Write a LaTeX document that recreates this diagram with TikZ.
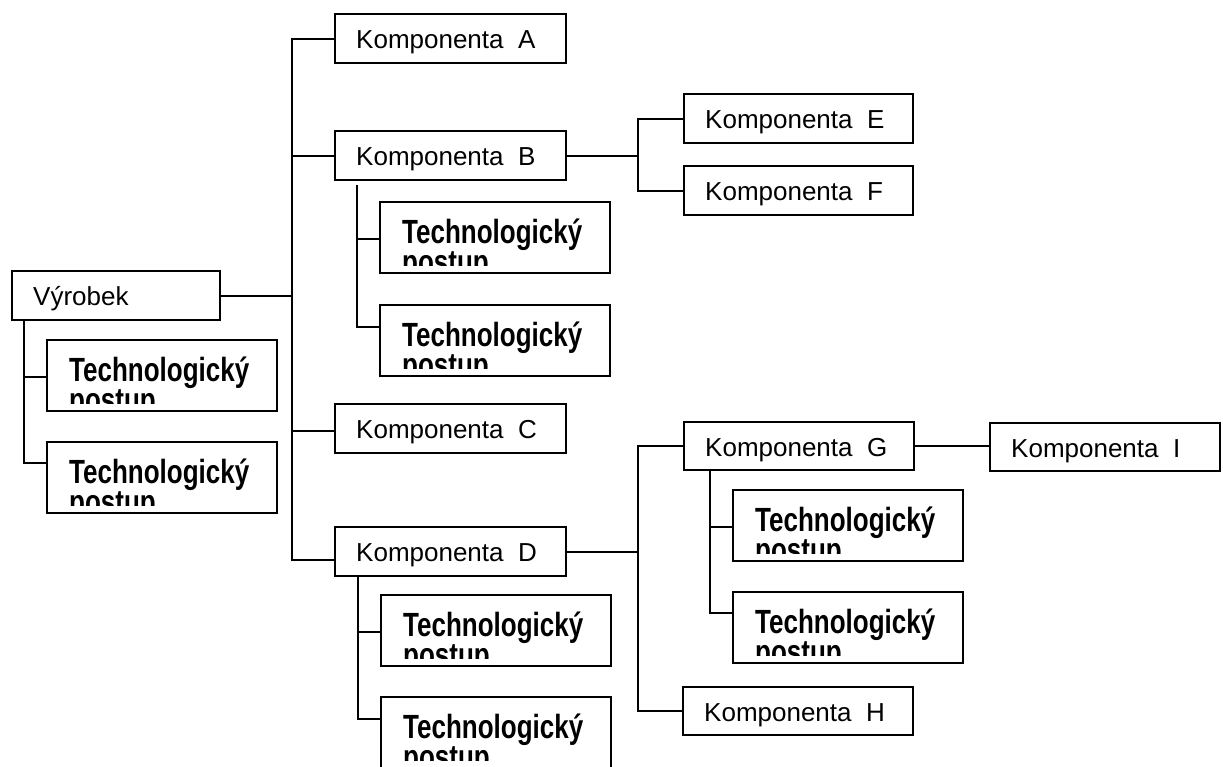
\documentclass[tikz,border=0pt]{standalone}
\usepackage{fontspec}
\setmainfont{Liberation Sans}
\usepackage{graphicx}
\usetikzlibrary{calc}

\tikzset{
  box/.style={draw, line width=2.3pt, inner sep=0pt, anchor=north west},
  label text/.style={inner sep=0pt, anchor=base west, font=\fontsize{26}{30}\selectfont},
  tech text/.style={inner sep=0pt, anchor=base west, font=\fontsize{26}{30}\selectfont\bfseries},
  link/.style={line width=2.1pt},
}

% component box: name, top-left x, top-left y, width, height, caption
\newcommand{\compbox}[6]{%
  \node[box, minimum width=#4pt, minimum height=#5pt] (#1) at (#2,#3) {};
  \node[label text] (#1-t) at ($(#1.north west)+(22,35)$) {#6};
}

% process box with a two-line caption clipped near its lower edge
\newcommand{\techbox}[3]{%
  \node[box, minimum width=230pt, minimum height=71pt] (#1) at (#2,#3) {};
  \begin{scope}
    \clip ($(#1.north west)+(2,2)$) rectangle ($(#1.north east)+(-2,64)$);
    \node[tech text] (#1-t1) at ($(#1.north west)+(23,42)$) {\scalebox{1}[1.29]{Technologický}};
    \node[tech text] (#1-t2) at ($(#1.north west)+(23,72)$) {\scalebox{1}[1.29]{postup}};
  \end{scope}
}

\begin{document}
\begin{tikzpicture}[x=1pt, y=-1pt]
\fill[white] (0,0) rectangle (1223,766);
\useasboundingbox (0,0) rectangle (1223,766);

% components
\compbox{V}{11}{270}{208}{49}{Výrobek}
\compbox{A}{334}{13}{231}{49}{Komponenta\ \ A}
\compbox{B}{334}{130}{231}{49}{Komponenta\ \ B}
\compbox{C}{334}{403}{231}{49}{Komponenta\ \ C}
\compbox{D}{334}{526}{231}{49}{Komponenta\ \ D}
\compbox{E}{683}{93}{229}{49}{Komponenta\ \ E}
\compbox{F}{683}{165}{229}{49}{Komponenta\ \ F}
\compbox{G}{683}{421}{230}{48}{Komponenta\ \ G}
\compbox{I}{989}{422}{230}{48}{Komponenta\ \ I}
\compbox{H}{682}{686}{230}{48}{Komponenta\ \ H}

% process boxes
\techbox{V1}{46}{339}
\techbox{V2}{46}{441}
\techbox{B1}{379}{201}
\techbox{B2}{379}{304}
\techbox{D1}{380}{594}
\techbox{D2}{380}{696}
\techbox{G1}{732}{489}
\techbox{G2}{732}{591}

% main trunk
\coordinate (tr) at (292,0);
\coordinate (dj) at (292,560);
\draw[link] (V.east) -- (V.east -| tr);
\draw[link] (A.west) -- (A.west -| tr) -- (dj) -- (dj -| D.west);
\draw[link] (B.west) -- (B.west -| tr);
\draw[link] ($(C.west)+(0,2)$) -- ($(C.west -| tr)+(0,2)$);

% B -> E, F
\coordinate (bf) at (638,0);
\draw[link] (B.east) -- (B.east -| bf);
\draw[link] (E.west) -- (E.west -| bf) -- (F.west -| bf) -- (F.west);

% D -> G, H
\draw[link] (D.east) -- (D.east -| bf);
\draw[link] (G.west) -- (G.west -| bf) -- (H.west -| bf) -- (H.west);

% G -> I
\draw[link] (G.east) -- (G.east -| I.west);

% process branches
\coordinate (vx) at (24,0);
\draw[link] (V.south -| vx) -- ($(V2.north west -| vx)+(0,22)$) -- ($(V2.north west)+(0,22)$);
\draw[link] ($(V1.north west -| vx)+(0,38)$) -- ($(V1.north west)+(0,38)$);

\coordinate (bx) at (357,0);
\draw[link] ($(B.south -| bx)+(0,4)$) -- ($(B2.north west -| bx)+(0,23)$) -- ($(B2.north west)+(0,23)$);
\draw[link] ($(B1.north west -| bx)+(0,38)$) -- ($(B1.north west)+(0,38)$);

\coordinate (dx) at (358,0);
\draw[link] (D.south -| dx) -- ($(D2.north west -| dx)+(0,23)$) -- ($(D2.north west)+(0,23)$);
\draw[link] ($(D1.north west -| dx)+(0,38)$) -- ($(D1.north west)+(0,38)$);

\coordinate (gx) at (710,0);
\draw[link] (G.south -| gx) -- ($(G2.north west -| gx)+(0,22)$) -- ($(G2.north west)+(0,22)$);
\draw[link] ($(G1.north west -| gx)+(0,38)$) -- ($(G1.north west)+(0,38)$);
\end{tikzpicture}
\end{document}
